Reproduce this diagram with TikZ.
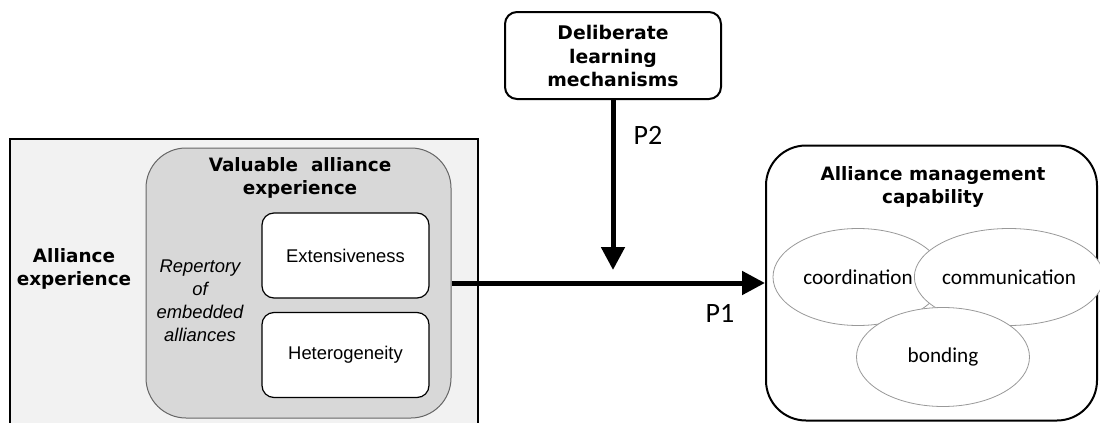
\documentclass[tikz,border=0pt]{standalone}
\usepackage{fontspec}
\setmainfont{Liberation Sans}
\newfontfamily\headfont{DejaVu Sans}
\newfontfamily\calfont{Carlito}
\usepackage{tikz}
\usetikzlibrary{positioning,arrows.meta,shapes.geometric}
\definecolor{panelgray}{HTML}{F2F2F2}
\definecolor{innergray}{HTML}{D8D8D8}

\begin{document}
\begin{tikzpicture}[x=0.5pt,y=-0.5pt,
  head/.style={font=\headfont\bfseries\fontsize{9.2}{11.8}\selectfont,align=center},
  outer/.style={draw,line width=1pt,fill=panelgray,minimum width=234pt,minimum height=160pt},
  valued/.style={draw=gray!80!black,line width=0.5pt,fill=innergray,rounded corners=20pt,
                 minimum width=152.5pt,minimum height=135pt},
  dim/.style={draw,line width=0.6pt,fill=white,rounded corners=6pt,minimum width=83.5pt,
              minimum height=42.5pt,font=\fontsize{9.2}{11}\selectfont},
  mech/.style={draw,line width=1pt,fill=white,rounded corners=6pt,minimum width=108pt,
               minimum height=43.5pt},
  capbox/.style={draw,line width=1pt,rounded corners=20pt,minimum width=165.5pt,minimum height=137.5pt},
  facet/.style={ellipse,draw=gray!80,line width=0.4pt,fill=white,inner sep=0pt,
                font=\calfont\fontsize{10.6}{13}\selectfont},
  plabel/.style={font=\calfont\fontsize{14}{16}\selectfont},
  link/.style={line width=2.5pt,-{Triangle[length=11.5pt,width=11.5pt]}}]
  \useasboundingbox (0,0) rectangle (1100,423);
  \clip (0,0) rectangle (1100,423);
  % --- left panel: alliance experience ---
  \node[outer] (exp) at (244,299) {};
  \node[head] (exptitle) at (74,269) {Alliance\\experience};
  \node[valued] (val) at (298.5,283) {};
  \node[head] (valtitle) at (300,178) {Valuable\ \ alliance\\experience};
  \node[align=center,font=\itshape\fontsize{9.2}{11.5}\selectfont] (rep) at (200,301)
    {Repertory\\of\\embedded\\alliances};
  \node[dim] (ext) at (345.5,255.5) {Extensiveness};
  \node[dim] (het) at (345.5,355) {Heterogeneity};
  % --- moderator on top ---
  \node[mech] (mech) at (613,55.5) {};
  \node[head,font=\headfont\bfseries\fontsize{9.4}{11.8}\selectfont] (mechtxt) at (613,56)
    {Deliberate\\learning\\mechanisms};
  % --- right panel: capability and its three facets ---
  \node[capbox] (capab) at (931.5,283) {};
  \node[head] (captitle) at (933,187) {Alliance management\\capability};
  \node[facet,minimum width=85pt,minimum height=48.5pt] (coord) at (858,277) {coordination};
  \node[facet,minimum width=89pt,minimum height=48.5pt] (comm) at (1009,277) {communication};
  \node[facet,minimum width=86.5pt,minimum height=49.5pt] (bond) at (943,357) {bonding};
  % --- propositions ---
  \coordinate (meet) at (613,270);
  \draw[link] (val) -- (capab);
  \draw[link] (mech) -- (meet);
  \node[plabel] (p1) at (720,313) {P1};
  \node[plabel] (p2) at (648,135) {P2};
\end{tikzpicture}
\end{document}
